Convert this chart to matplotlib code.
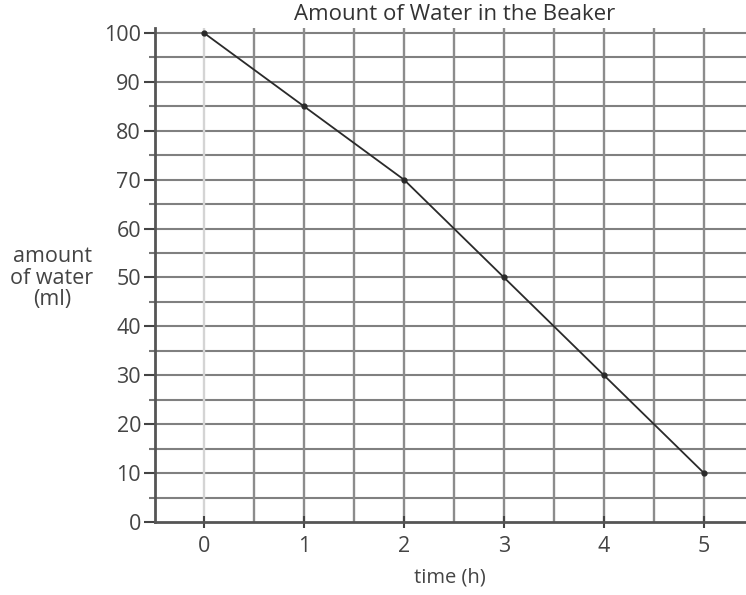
import matplotlib.pyplot as plt
import numpy as np

# data
time_h = [0, 1, 2, 3, 4, 5]
water_ml = [100, 85, 70, 50, 30, 10]
x_ticks = [0, 1, 2, 3, 4, 5]
y_ticks = [0, 10, 20, 30, 40, 50, 60, 70, 80, 90, 100]

plt.rcParams['font.family'] = ['Open Sans', 'DejaVu Sans']
txt = '#444444'

fig = plt.figure(figsize=(7.46, 5.95), dpi=100)
ax = fig.add_axes([155/746, 1-522/595, 1-155/746, (522-28.1)/595])

ax.set_xlim(-0.49, 5.42)
ax.set_ylim(0, 101)

# grid: horizontal every 5, vertical every 0.5
for y in np.arange(5, 101, 5):
    ax.axhline(y, color='#808080', lw=1.5, zorder=1)
for x in np.arange(0, 5.5, 0.5):
    c = '#d4d4d4' if x == 0 else '#8c8c8c'
    ax.axvline(x, color=c, lw=1.7, zorder=1)

ax.plot(time_h, water_ml, color='#2a2a2a', lw=1.3, marker='o', ms=3.5, zorder=3)

for s in ['top', 'right']:
    ax.spines[s].set_visible(False)
for s in ['left', 'bottom']:
    ax.spines[s].set_color('#555555')
    ax.spines[s].set_linewidth(2)

ax.set_xticks(x_ticks)
ax.set_yticks(y_ticks)
ax.set_yticks(np.arange(5, 100, 10), minor=True)
ax.tick_params(axis='x', direction='inout', length=8, width=1.5, color='#444444',
               labelsize=15.5, labelcolor=txt, pad=6)
ax.tick_params(axis='y', which='major', direction='out', length=8, width=1.5,
               color='#444444', labelsize=15.5, labelcolor=txt, pad=2)
ax.tick_params(axis='y', which='minor', direction='out', length=4, width=1.5,
               color='#777777')

fig.text(455/746, 1-14/595, 'Amount of Water in the Beaker', ha='center', va='center',
         fontsize=16, color='#333333')
fig.text(450/746, 1-578/595, 'time (h)', ha='center', va='center', fontsize=14.5, color=txt)
fig.text(52/746, 1-278/595, 'amount\nof water\n(ml)', ha='center', va='center',
         fontsize=15.5, color=txt, linespacing=1.0)

fig.savefig('out.png', dpi=100)
